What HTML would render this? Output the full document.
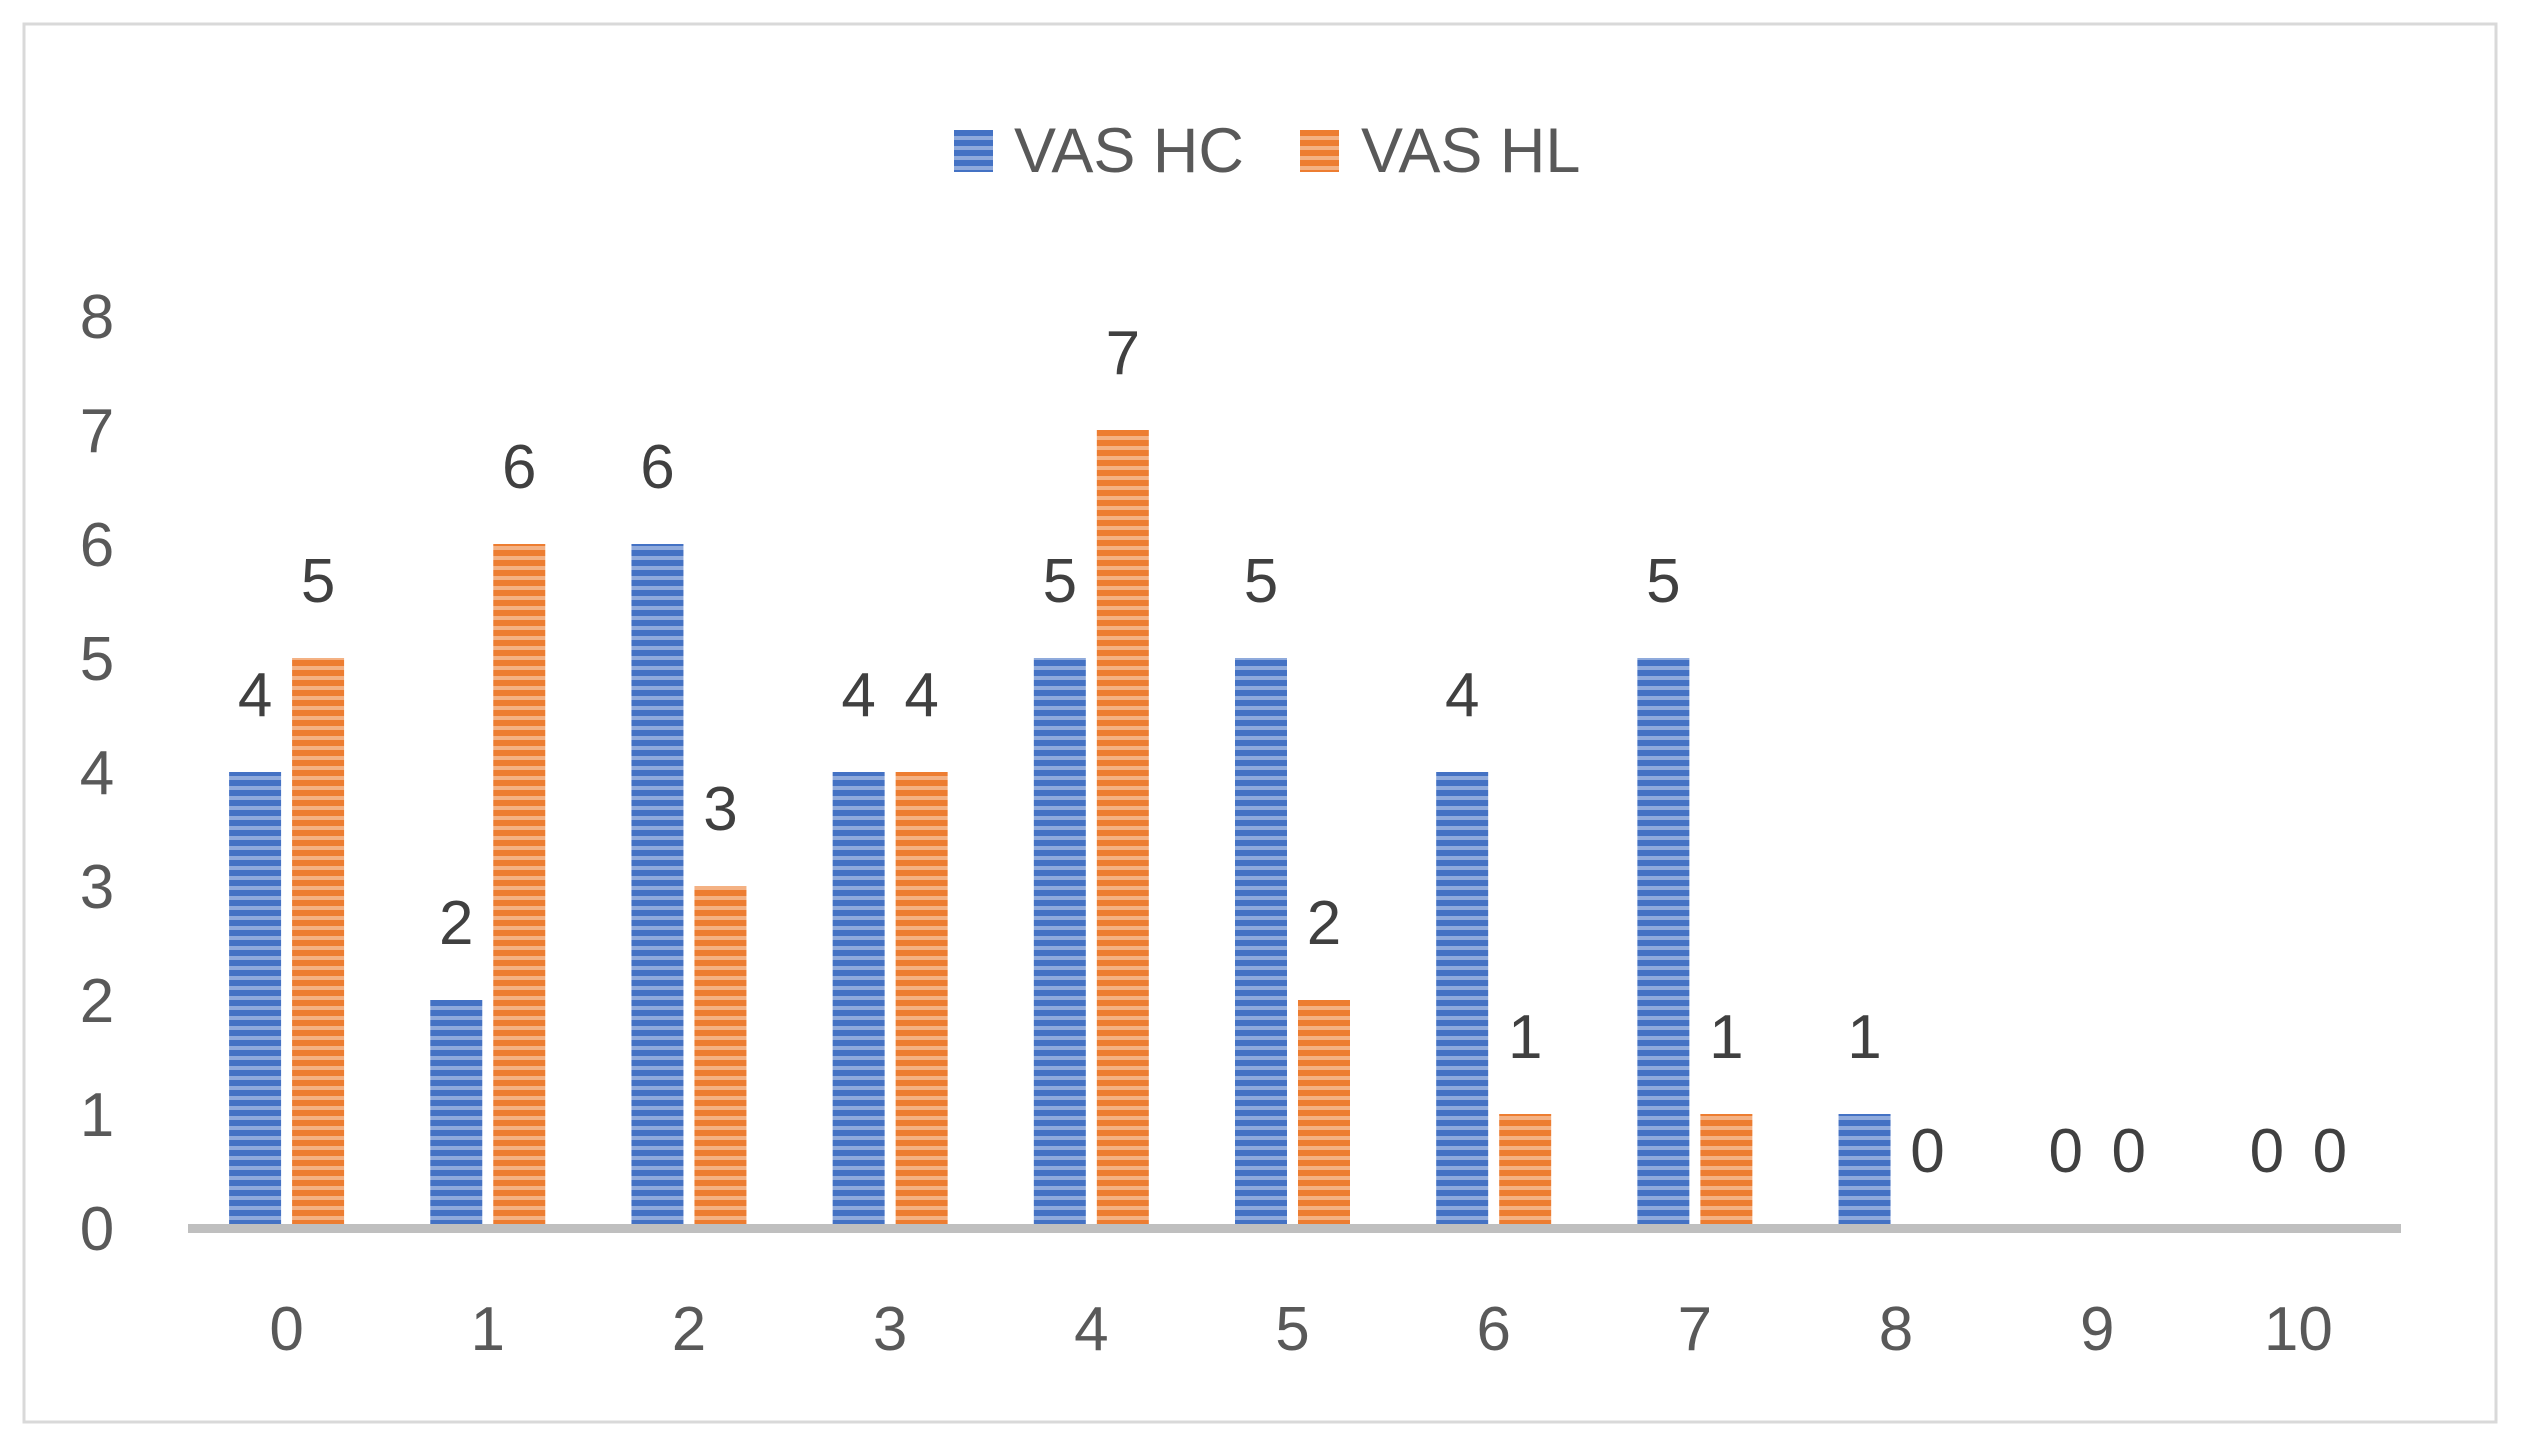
<!DOCTYPE html>
<html><head><meta charset="utf-8"><style>
html,body{margin:0;padding:0;background:#fff;}
svg{display:block;font-family:"Liberation Sans",sans-serif;}
</style></head><body>
<svg id="chart" width="2523" height="1452" viewBox="0 0 2523 1452" xmlns="http://www.w3.org/2000/svg">
<defs>
<pattern id="pb" patternUnits="userSpaceOnUse" width="10" height="10"><rect width="10" height="10" fill="#8faadc"/><rect y="0" width="10" height="6" fill="#4472c4"/></pattern>
<pattern id="po" patternUnits="userSpaceOnUse" width="10" height="10"><rect width="10" height="10" fill="#f4b183"/><rect y="0" width="10" height="6" fill="#ed7d31"/></pattern>
</defs>
<rect x="24" y="24" width="2472" height="1398" fill="#fff" stroke="#d9d9d9" stroke-width="3"/>
<g>
<rect x="954" y="130" width="39" height="42" fill="url(#pb)"/>
<text x="1014" y="172" font-size="63" fill="#595959">VAS HC</text>
<rect x="1300" y="130" width="39" height="42" fill="url(#po)"/>
<text x="1361" y="172" font-size="63" fill="#595959">VAS HL</text>
</g>
<g id="yticks"></g><g id="bars"></g><g id="xticks"></g>
<rect x="188" y="1224" width="2213" height="9" fill="#bfbfbf"/>
</svg>
<script>
const categories=["0","1","2","3","4","5","6","7","8","9","10"];
const hcValues=[4,2,6,4,5,5,4,5,1,0,0];
const hlValues=[5,6,3,4,7,2,1,1,0,0,0];
const yTicks=[0,1,2,3,4,5,6,7,8];
const NS="http://www.w3.org/2000/svg";
const x0=186,x1=2399,base=1228,unit=114;
const band=(x1-x0)/categories.length;
const xc=i=>x0+band*(i+0.5);
const y=v=>base-v*unit;
const svg=document.getElementById('chart');
function mk(tag,attrs,parent){const e=document.createElementNS(NS,tag);for(const k in attrs)e.setAttribute(k,attrs[k]);parent.appendChild(e);return e;}
const yg=document.getElementById('yticks');
yTicks.forEach(t=>{const e=mk('text',{x:97,y:y(t)+22,'font-size':62,fill:'#595959','text-anchor':'middle'},yg);


e.textContent=t;});
const xg=document.getElementById('xticks');
categories.forEach((c,i)=>{const e=mk('text',{x:xc(i),y:1350,'font-size':62,fill:'#595959','text-anchor':'middle'},xg);


e.textContent=c;});
const bg=document.getElementById('bars');
const bw=52,gap=11;
function series(vals,fill,off,name){vals.forEach((v,i)=>{const bx=xc(i)+off;
if(v>0){const r=mk('rect',{x:bx,y:y(v),width:bw,height:v*unit,fill:fill},bg);

}
const t=mk('text',{x:bx+bw/2,y:y(v)-78+22,'font-size':62,fill:'#404040','text-anchor':'middle'},bg);


t.textContent=v;});}
series(hcValues,'url(#pb)',-gap/2-bw,'hc');
series(hlValues,'url(#po)',gap/2,'hl');
</script>
</body></html>
